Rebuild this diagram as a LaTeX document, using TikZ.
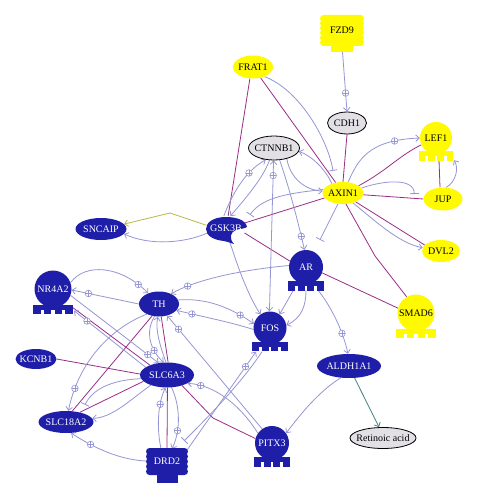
\documentclass[tikz,border=0pt]{standalone}
\usepackage{fontspec}
\setmainfont{Liberation Serif}
\usetikzlibrary{shapes.geometric,arrows.meta,decorations.markings,calc}
\pgfdeclarelayer{back}
\pgfdeclarelayer{bg}
\pgfsetlayers{back,bg,main}
\definecolor{nblue}{RGB}{30,30,168}
\definecolor{yel}{RGB}{255,250,0}
\definecolor{gfill}{RGB}{226,224,228}
\definecolor{lav}{RGB}{150,150,212}
\definecolor{mag}{RGB}{155,45,135}
\definecolor{olv}{RGB}{185,185,70}
\definecolor{tealc}{RGB}{70,130,130}
\newcommand\mbx[1]{\makebox[0pt]{#1}}
\newcommand\tfbase[4]{%
  \pgfmathsetmacro\hw{1.07*#3}%
  \pgfmathsetmacro\gw{0.17*#3}%
  \pgfmathsetmacro\fw{(2*\hw-3*\gw)/4}%
  \fill[#4] ({#1-\hw},{#2+#3-3}) rectangle ({#1+\hw},{#2+#3+2});%
  \foreach \k in {0,1,2,3}{\fill[#4] ({#1-\hw+\k*(\fw+\gw)},{#2+#3+1.5}) rectangle ++(\fw,5);}%
}
\tikzset{
  every node/.style={font=\fontsize{10}{12}\selectfont},
  ell/.style={ellipse, inner sep=0pt},
  tf/.style={circle, inner sep=0pt, minimum size=#1},
  bluenode/.style={fill=nblue, text=white},
  yelnode/.style={fill=yel, text=black},
  greynode/.style={fill=gfill, draw=black, line width=0.8pt, text=black},
  act/.style={draw=lav, line width=0.8pt, ->},
  inh/.style={draw=lav, line width=0.8pt, -{Bar[width=9pt]}},
  bind/.style={draw=mag, line width=0.8pt},
  pm/.style={postaction={decorate,decoration={markings,mark=at position #1 with {\pgftransformresetnontranslations\draw[lav,fill=white,line width=0.6pt,-] (0,0) circle (3.3pt);\draw[lav,line width=0.6pt,-] (-3.3pt,0) -- (3.3pt,0) (0,-3.3pt) -- (0,3.3pt);}}}},
}
\begin{document}
\begin{tikzpicture}[x=1pt,y=-1pt,>={Straight Barb[length=3.5pt,width=6.5pt]}]
\begin{pgfonlayer}{back}
\fill[white] (0,0) rectangle (478,500);
\end{pgfonlayer}
\useasboundingbox (0,0) rectangle (478,500);

% ---------- receptor shapes ----------
\foreach \k in {0,...,5}{\fill[yel, rounded corners=3.5pt] (320,{15+\k*4.8}) rectangle (364,{22+\k*4.8});}
\fill[yel] (331,44) rectangle (353,52);
\node[inner sep=0pt, minimum width=44pt, minimum height=30pt] (FZD9) at (342,30) {\mbx{FZD9}};

\foreach \k in {0,...,4}{\fill[nblue, rounded corners=3.5pt] (146,{448+\k*5}) rectangle (188,{455+\k*5});}
\fill[nblue] (156.5,473) rectangle (177.5,483);
\node[inner sep=0pt, minimum width=42pt, minimum height=24pt, text=white] (DRD2) at (167,461) {\mbx{DRD2}};

% ---------- GSK3B ----------
\fill[nblue] (247,227) .. controls (246,220) and (236,217) .. (226,217)
  .. controls (214,217) and (206,222) .. (206,229)
  .. controls (206,236) and (214,240) .. (224,241)
  .. controls (228,242) and (231,243) .. (234,244)
  .. controls (229,239) and (230,232) .. (236,230)
  .. controls (240,228.5) and (244,229) .. (247,227) -- cycle;
\node[ell, minimum width=40pt, minimum height=24pt, text=white] (GSK3B) at (226,228) {\mbx{GSK3B}};

% ---------- ellipse nodes ----------
\node[ell, yelnode, minimum width=40pt, minimum height=23pt] (FRAT1) at (253,67) {\mbx{FRAT1}};
\node[ell, greynode, minimum width=39pt, minimum height=22pt] (CDH1) at (347,123) {\mbx{CDH1}};
\node[ell, greynode, minimum width=51pt, minimum height=24pt] (CTNNB1) at (274,148) {\mbx{CTNNB1}};
\node[ell, yelnode, minimum width=41pt, minimum height=22pt] (AXIN1) at (343,193) {\mbx{AXIN1}};
\node[ell, yelnode, minimum width=39pt, minimum height=23pt] (JUP) at (443,199) {\mbx{JUP}};
\node[ell, yelnode, minimum width=38pt, minimum height=22pt] (DVL2) at (441,251) {\mbx{DVL2}};
\node[ell, bluenode, minimum width=51pt, minimum height=22pt] (SNCAIP) at (101,229) {\mbx{SNCAIP}};
\node[ell, bluenode, minimum width=40pt, minimum height=25pt] (TH) at (159,304) {\mbx{TH}};
\node[ell, bluenode, minimum width=41pt, minimum height=20pt] (KCNB1) at (36,359) {\mbx{KCNB1}};
\node[ell, bluenode, minimum width=54pt, minimum height=25pt] (SLC6A3) at (167,375) {\mbx{SLC6A3}};
\node[ell, bluenode, minimum width=55pt, minimum height=22pt] (SLC18A2) at (66,422) {\mbx{SLC18A2}};
\node[ell, bluenode, minimum width=64pt, minimum height=24pt] (ALDH1A1) at (349,366) {\mbx{ALDH1A1}};
\node[ell, greynode, minimum width=66pt, minimum height=21pt] (RA) at (383,438) {\mbx{Retinoic acid}};

% ---------- transcription-factor shapes ----------
\tfbase{436}{138}{16}{yel}
\node[tf=32pt, yelnode] (LEF1) at (436,138) {\mbx{LEF1}};
\tfbase{306}{267}{17}{nblue}
\node[tf=34pt, bluenode] (AR) at (306,267) {\mbx{AR}};
\tfbase{270}{328}{16.5}{nblue}
\node[tf=33pt, bluenode] (FOS) at (270,328) {\mbx{FOS}};
\tfbase{416}{313}{18.5}{yel}
\node[tf=37pt, yelnode] (SMAD6) at (416,313) {\mbx{SMAD6}};
\tfbase{272}{443}{17}{nblue}
\node[tf=34pt, bluenode] (PITX3) at (272,443) {\mbx{PITX3}};
\tfbase{53}{289}{18.5}{nblue}
\node[tf=37pt, bluenode] (NR4A2) at (53,289) {\mbx{NR4A2}};

% ---------- connectors ----------
\begin{pgfonlayer}{bg}
% binding lines
\draw[bind] (FRAT1.255) -- (GSK3B.80);
\draw[bind] (FRAT1.-55) -- (AXIN1.125);
\draw[bind] (CDH1.south) -- (AXIN1.north);
\draw[bind] (AXIN1.25) .. controls (385,172) and (400,155) .. (LEF1.205);
\draw[bind] ($(LEF1.south)+(3,6)$) -- ($(JUP.north)+(-3,0)$);
\draw[bind] (AXIN1.-5) -- (JUP.west);
\draw[bind] (AXIN1.-35) -- (DVL2.160);
\draw[bind] (AXIN1.-75) -- (375,256) -- (SMAD6.120);
\draw[bind] (AR.-20) -- (SMAD6.165);
\draw[bind] (AXIN1.195) -- (GSK3B.15);
\draw[bind] (GSK3B.-15) -- (AR.160);
\draw[bind] (TH.-80) -- (SLC6A3.85);
\draw[bind] (TH.-120) -- (SLC18A2.60);
\draw[bind] ($(NR4A2.south)+(20,0)$) -- (SLC6A3.150);
\draw[bind] (KCNB1.east) -- (SLC6A3.178);
\draw[bind] (SLC6A3.195) -- (SLC18A2.35);
\draw[bind] (SLC6A3.-88) -- (DRD2.north);
\draw[bind] (SLC6A3.-35) -- (213,418) -- (PITX3.165);

% regulation lines
\draw[act, pm=0.72] (FZD9.south) -- (CDH1.north);
\draw[inh] (FRAT1.-40) .. controls (300,90) and (328,140) .. ($(AXIN1.north)+(-10,-11)$);
\draw[act, pm=0.72] (AXIN1.65) .. controls (358,160) and (368,140) .. (LEF1.west);
\draw[act] (JUP.75) .. controls (456,182) and (459,168) .. ($(LEF1.south)+(18,6)$);
\draw[inh] (AXIN1.15) .. controls (385,180) and (414,178) .. ($(JUP.west)+(-9,-5)$);
\draw[act] (AXIN1.-45) .. controls (372,218) and (398,243) .. (DVL2.170);
\draw[inh] (AXIN1.-115) -- ($(AR.north)+(14,-10)$);
\draw[inh] (AXIN1.170) .. controls (290,193) and (262,197) .. ($(GSK3B.north)+(24,-1)$);
\draw[act, pm=0.7] (GSK3B.100) .. controls (232,195) and (244,172) .. (CTNNB1.235);
\draw[act] (CTNNB1.250) .. controls (262,180) and (244,200) .. (GSK3B.70);
\draw[act, <->, pm=0.9] (FOS.92) -- (CTNNB1.-92);
\draw[act, pm=0.85] (CTNNB1.-65) .. controls (290,190) and (298,222) .. (AR.95);
\draw[act] (AXIN1.140) .. controls (325,168) and (310,155) .. (CTNNB1.-8);
\draw[act] (CTNNB1.-40) .. controls (290,178) and (305,190) .. (AXIN1.175);
\draw[draw=olv, line width=0.8pt, ->] (GSK3B.172) -- (170,213) -- (SNCAIP.12);
\draw[act] (GSK3B.195) .. controls (185,243) and (150,246) .. (SNCAIP.-12);
\draw[act] (GSK3B.-75) .. controls (238,268) and (248,295) .. (FOS.125);
\draw[act, pm=0.85] (AR.175) .. controls (240,270) and (195,280) .. (TH.40);
\draw[act] ($(AR.south)+(-12,5)$) -- (FOS.55);
\draw[act] ($(AR.south)+(0,6)$) .. controls (306,305) and (302,318) .. (FOS.10);
\draw[act, pm=0.7] ($(AR.south)+(12,6)$) .. controls (330,305) and (343,330) .. (ALDH1A1.95);
\draw[act, pm=0.85] (NR4A2.20) .. controls (85,263) and (120,265) .. (TH.135);
\draw[act, pm=0.75] (TH.west) -- (NR4A2.-3);
\draw[act, pm=0.8] (TH.12) .. controls (205,298) and (228,306) .. (FOS.165);
\draw[act, pm=0.8] (FOS.185) .. controls (230,322) and (200,316) .. (TH.-20);
\draw[act, pm=0.88] (PITX3.125) -- (TH.-55);
\draw[act, pm=0.7] (TH.-110) .. controls (145,332) and (150,350) .. (SLC6A3.105);
\draw[act] (SLC6A3.95) .. controls (160,345) and (155,330) .. (TH.-95);
\draw[act, pm=0.88] (NR4A2.-20) -- (SLC6A3.125);
\draw[act, pm=0.82] (SLC6A3.160) -- ($(NR4A2.south)+(21,3)$);
\draw[act, pm=0.82] (TH.-140) .. controls (118,325) and (80,355) .. (SLC18A2.78);
\draw[inh] (SLC6A3.188) .. controls (110,380) and (92,390) .. ($(SLC18A2.north)+(19,-6)$);
\draw[act] (SLC6A3.212) .. controls (130,400) and (112,418) .. (SLC18A2.8);
\draw[act, pm=0.72] (DRD2.west) .. controls (125,460) and (100,452) .. (SLC18A2.-65);
\draw[act, pm=0.72] ($(DRD2.north)+(-6,0)$) .. controls (157,430) and (157,405) .. (SLC6A3.-97);
\draw[act, pm=0.7] (SLC6A3.-70) .. controls (180,405) and (181,430) .. ($(DRD2.north)+(5,0)$);
\draw[act, pm=0.85] ($(DRD2.north east)+(-1,1)$) -- ($(FOS.south)+(-14,7)$);
\draw[inh] ($(FOS.south)+(-8,7)$) .. controls (240,385) and (205,420) .. ($(DRD2.north east)+(-4,-8)$);
\draw[act, pm=0.85] (PITX3.145) .. controls (240,405) and (215,385) .. (SLC6A3.-22);
\draw[act] (ALDH1A1.-125) .. controls (318,392) and (300,415) .. (PITX3.35);
\draw[draw=tealc, line width=0.8pt, ->] (ALDH1A1.-65) -- (RA.110);
\end{pgfonlayer}
\end{tikzpicture}
\end{document}
